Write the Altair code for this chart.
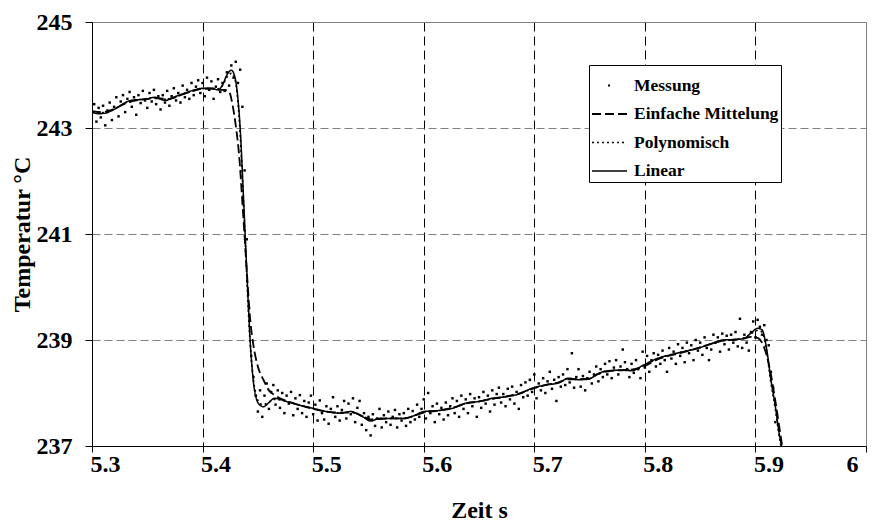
import altair as alt
import pandas as pd

FONT = "Liberation Serif"

# Measured temperature, sampled every 2 ms from 5.300 s
meas_T = [
    243.28, 243.45, 243.12, 243.38, 243.20, 243.42, 243.05, 243.33, 243.48, 243.15,
    243.40, 243.58, 243.22, 243.50, 243.62, 243.30, 243.55, 243.68, 243.40, 243.58,
    243.25, 243.62, 243.47, 243.70, 243.52, 243.38, 243.66, 243.50, 243.72, 243.45,
    243.60, 243.35, 243.62, 243.48, 243.70, 243.42, 243.60, 243.75, 243.52, 243.66,
    243.48, 243.80, 243.58, 243.72, 243.55, 243.85, 243.62, 243.78, 243.90, 243.66,
    243.85, 243.60, 243.95, 243.72, 243.88, 243.55, 243.78, 243.92, 243.68, 243.85,
    243.70, 244.05, 243.80, 244.18, 243.95, 244.25, 243.85, 244.10, 243.40, 242.20,
    240.90, 239.60, 238.70, 238.30, 237.95, 237.65, 238.05, 237.55, 237.95, 238.18,
    237.70, 238.02, 238.15, 237.78, 238.05, 237.72, 238.00, 237.62, 237.95, 237.80,
    238.02, 237.58, 237.90, 237.70, 237.96, 237.62, 237.85, 237.55, 237.82, 237.95,
    237.60, 237.78, 237.48, 237.86, 237.62, 237.50, 237.75, 237.42, 237.70, 237.92,
    237.55, 237.75, 237.48, 237.68, 237.85, 237.52, 237.80, 237.60, 237.90, 237.45,
    237.72, 237.85, 237.40, 237.62, 237.30, 237.55, 237.20, 237.60, 237.38, 237.52,
    237.70, 237.35, 237.58, 237.45, 237.65, 237.40, 237.55, 237.68, 237.35, 237.60,
    237.48, 237.62, 237.38, 237.70, 237.45, 237.66, 237.50, 237.78, 237.55, 237.70,
    237.88, 237.52, 238.00, 237.62, 237.75, 237.45, 237.80, 237.60, 237.72, 237.50,
    237.82, 237.58, 237.75, 237.90, 237.62, 237.85, 237.55, 237.95, 237.70, 237.88,
    237.62, 237.98, 237.75, 237.90, 237.55, 237.92, 237.72, 238.02, 237.80, 237.95,
    237.65, 238.05, 237.78, 237.98, 238.10, 237.82, 237.98, 237.75, 238.08, 237.88,
    238.12, 237.80, 238.02, 237.70, 238.15, 237.92, 238.20, 237.95, 238.25, 238.02,
    238.35, 237.90, 238.18, 238.05, 238.28, 238.00, 238.22, 238.40, 238.08, 238.25,
    237.85, 238.30, 238.12, 238.35, 238.15, 238.45, 238.20, 238.75, 238.10, 238.30,
    238.45, 238.12, 238.32, 238.05, 238.28, 238.40, 238.18, 238.35, 238.50, 238.22,
    238.45, 238.30, 238.55, 238.35, 238.60, 238.28, 238.48, 238.62, 238.35, 238.50,
    238.82, 238.58, 238.45, 238.30, 238.55, 238.38, 238.62, 238.45, 238.28, 238.78,
    238.48, 238.70, 238.40, 238.62, 238.75, 238.50, 238.72, 238.55, 238.80, 238.62,
    238.40, 238.85, 238.65, 238.78, 238.55, 238.92, 238.70, 238.85, 238.58, 238.95,
    238.75, 238.90, 238.62, 239.00, 238.80, 238.95, 238.72, 239.05, 238.85, 238.62,
    238.82, 239.10, 238.95, 239.05, 238.78, 239.12, 238.92, 239.08, 238.82, 239.10,
    238.95, 239.15, 238.88, 239.40, 238.85, 239.10, 238.95, 238.80, 239.15, 239.35,
    239.05, 239.38, 239.25, 239.10, 239.28, 239.00, 238.90, 238.40, 238.10, 237.45,
    236.90, 236.50, 236.20,
]
meas_t = [round(5.300 + 0.002 * i, 3) for i in range(len(meas_T))]

# knot times of the fitted curves (Linear / Polynomisch)
fit_t = [
    5.300, 5.306, 5.312, 5.318, 5.324, 5.330, 5.338, 5.348, 5.357, 5.366,
    5.375, 5.384, 5.393, 5.400, 5.408, 5.414, 5.418, 5.422, 5.426, 5.429,
    5.432, 5.434, 5.437, 5.440, 5.443, 5.446, 5.449, 5.452, 5.455, 5.460,
    5.465, 5.470, 5.476, 5.488, 5.500, 5.512, 5.524, 5.534, 5.545, 5.552,
    5.560, 5.570, 5.582, 5.591, 5.600, 5.614, 5.626, 5.638, 5.650, 5.662,
    5.674, 5.686, 5.698, 5.710, 5.722, 5.731, 5.740, 5.749, 5.758, 5.767,
    5.779, 5.788, 5.799, 5.811, 5.823, 5.835, 5.847, 5.859, 5.871, 5.883,
    5.890, 5.896, 5.902, 5.906, 5.910, 5.914, 5.918, 5.921, 5.924, 5.927,
]
lin_T = [
    243.30, 243.27, 243.28, 243.33, 243.40, 243.48, 243.53, 243.54, 243.58, 243.52,
    243.59, 243.66, 243.72, 243.75, 243.75, 243.72, 243.81, 244.00, 244.09, 243.98,
    243.55, 243.00, 241.70, 240.30, 239.00, 238.20, 237.87, 237.77, 237.74, 237.82,
    237.90, 237.88, 237.84, 237.77, 237.71, 237.65, 237.62, 237.65, 237.55, 237.47,
    237.52, 237.52, 237.52, 237.57, 237.65, 237.67, 237.71, 237.81, 237.84, 237.90,
    237.93, 237.98, 238.09, 238.15, 238.19, 238.28, 238.25, 238.26, 238.37, 238.42,
    238.43, 238.42, 238.53, 238.65, 238.72, 238.78, 238.84, 238.92, 239.00, 239.01,
    239.03, 239.13, 239.22, 239.19, 238.85, 238.25, 237.75, 237.30, 236.95, 236.55,
]
poly_T = [
    243.31, 243.29, 243.29, 243.33, 243.40, 243.47, 243.52, 243.55, 243.57, 243.54,
    243.58, 243.65, 243.71, 243.74, 243.75, 243.74, 243.80, 243.96, 244.03, 243.94,
    243.50, 242.90, 241.60, 240.20, 238.95, 238.25, 237.92, 237.80, 237.78, 237.83,
    237.88, 237.87, 237.84, 237.77, 237.71, 237.65, 237.62, 237.64, 237.56, 237.49,
    237.52, 237.52, 237.52, 237.57, 237.64, 237.67, 237.72, 237.80, 237.84, 237.89,
    237.93, 237.98, 238.08, 238.15, 238.20, 238.27, 238.26, 238.27, 238.36, 238.42,
    238.43, 238.43, 238.52, 238.64, 238.72, 238.78, 238.84, 238.92, 238.99, 239.01,
    239.04, 239.12, 239.18, 239.15, 238.80, 238.20, 237.70, 237.25, 236.90, 236.50,
]
# simple moving average (Einfache Mittelung)
ein_t = [
    5.300, 5.310, 5.320, 5.330, 5.340, 5.350, 5.360, 5.370, 5.380, 5.390,
    5.400, 5.410, 5.416, 5.420, 5.424, 5.427, 5.430, 5.433, 5.436, 5.440,
    5.443, 5.446, 5.450, 5.455, 5.460, 5.466, 5.476, 5.488, 5.500, 5.512,
    5.524, 5.536, 5.545, 5.552, 5.560, 5.570, 5.582, 5.591, 5.600, 5.614,
    5.626, 5.638, 5.650, 5.662, 5.674, 5.686, 5.698, 5.710, 5.722, 5.731,
    5.740, 5.749, 5.758, 5.767, 5.779, 5.788, 5.800, 5.811, 5.823, 5.835,
    5.847, 5.859, 5.871, 5.883, 5.890, 5.896, 5.902, 5.906, 5.910, 5.914,
    5.918, 5.922, 5.926, 5.930,
]
ein_T = [
    243.32, 243.30, 243.36, 243.46, 243.52, 243.55, 243.56, 243.55, 243.62, 243.69,
    243.74, 243.74, 243.72, 243.72, 243.68, 243.45, 243.05, 242.50, 241.60, 240.30,
    239.40, 238.90, 238.50, 238.25, 238.05, 237.95, 237.85, 237.77, 237.70, 237.65,
    237.63, 237.63, 237.56, 237.50, 237.51, 237.52, 237.52, 237.57, 237.63, 237.67,
    237.72, 237.80, 237.84, 237.89, 237.93, 237.99, 238.08, 238.15, 238.20, 238.26,
    238.26, 238.27, 238.36, 238.41, 238.43, 238.44, 238.51, 238.63, 238.71, 238.77,
    238.84, 238.92, 238.99, 239.01, 239.03, 239.06, 239.04, 238.95, 238.72, 238.35,
    237.85, 237.30, 236.75, 236.20,
]

series_names = ["Messung", "Einfache Mittelung", "Polynomisch", "Linear"]
x_ticks = [5.3, 5.4, 5.5, 5.6, 5.7, 5.8, 5.9, 6.0]
y_ticks = [237, 239, 241, 243, 245]

meas_df = pd.DataFrame({"t": meas_t, "T": meas_T})
lines_df = pd.concat([
    pd.DataFrame({"t": ein_t, "T": ein_T, "Serie": "Einfache Mittelung"}),
    pd.DataFrame({"t": fit_t, "T": poly_T, "Serie": "Polynomisch"}),
    pd.DataFrame({"t": fit_t, "T": lin_T, "Serie": "Linear"}),
], ignore_index=True)

x_axis = alt.Axis(
    values=x_ticks, format=".1~f",
    labelFont=FONT, labelFontSize=24, labelFontWeight="bold", labelColor="black",
    labelFlush=False, labelOverlap=False, labelPadding=0,
    labelOffset={"condition": {"test": "datum.value > 5.95", "value": -14}, "value": 13},
    tickSize=6, tickColor="black", domainColor="black", domainWidth=1,
    grid=True,
    gridColor={"condition": {"test": "datum.value > 5.95", "value": "#808080"}, "value": "#000000"},
    gridDash={"condition": {"test": "datum.value > 5.95", "value": []}, "value": [9, 5]},
    gridWidth=1, gridOpacity=1,
    titleFont=FONT, titleFontSize=24, titleFontWeight="bold", titleColor="black",
    titleX=387, titleY=71, titleBaseline="alphabetic", titleAlign="center",
)
y_axis = alt.Axis(
    values=y_ticks, format="d",
    labelFont=FONT, labelFontSize=24, labelFontWeight="bold", labelColor="black",
    labelFlush=False, labelOverlap=False, labelPadding=13,
    tickSize=7, tickColor="black", domainColor="black", domainWidth=1,
    grid=True, gridColor="#808080",
    gridDash={"condition": {"test": "datum.value > 244.5", "value": []}, "value": [8, 4]},
    gridWidth=1.2, gridOpacity=1,
    titleFont=FONT, titleFontSize=24, titleFontWeight="bold", titleColor="black",
    titleX=-63, titleY=212, titleAngle=-90, titleBaseline="alphabetic", titleAlign="center",
)

x_enc = alt.X("t:Q", title="Zeit s",
              scale=alt.Scale(domain=[5.3, 6.0], nice=False, zero=False), axis=x_axis)
y_enc = alt.Y("T:Q", title="Temperatur °C",
              scale=alt.Scale(domain=[237, 245], nice=False, zero=False), axis=y_axis)

legend = alt.Legend(
    orient="none", legendX=497, legendY=43, title=None,
    strokeColor="black", fillColor="white", padding=2,
    symbolType="stroke", symbolSize=1225,
    labelFont=FONT, labelFontSize=17.5, labelFontWeight="bold", labelColor="black",
    labelOffset=6, rowPadding=1.5,
)

points = alt.Chart(meas_df).mark_square(size=6, color="black", opacity=1, clip=True).encode(
    x=x_enc, y=y_enc
)
lines = alt.Chart(lines_df).mark_line(color="black", clip=True, interpolate="monotone").encode(
    x=x_enc, y=y_enc,
    strokeDash=alt.StrokeDash("Serie:N", legend=legend,
                              scale=alt.Scale(domain=series_names,
                                              range=[[0, 16, 2, 100], [9, 4], [2, 3], [1, 0]])),
    strokeWidth=alt.StrokeWidth("Serie:N", legend=legend,
                                scale=alt.Scale(domain=series_names, range=[2, 1.5, 1.6, 1.2])),
)

chart = alt.layer(points, lines).properties(
    width=774, height=424,
    autosize=alt.AutoSizeParams(type="none"),
    padding={"left": 92, "top": 22, "right": 7, "bottom": 79},
    background="white",
).configure_view(stroke=None)

chart.save("out.html", embed_options={"renderer": "svg", "actions": False})
